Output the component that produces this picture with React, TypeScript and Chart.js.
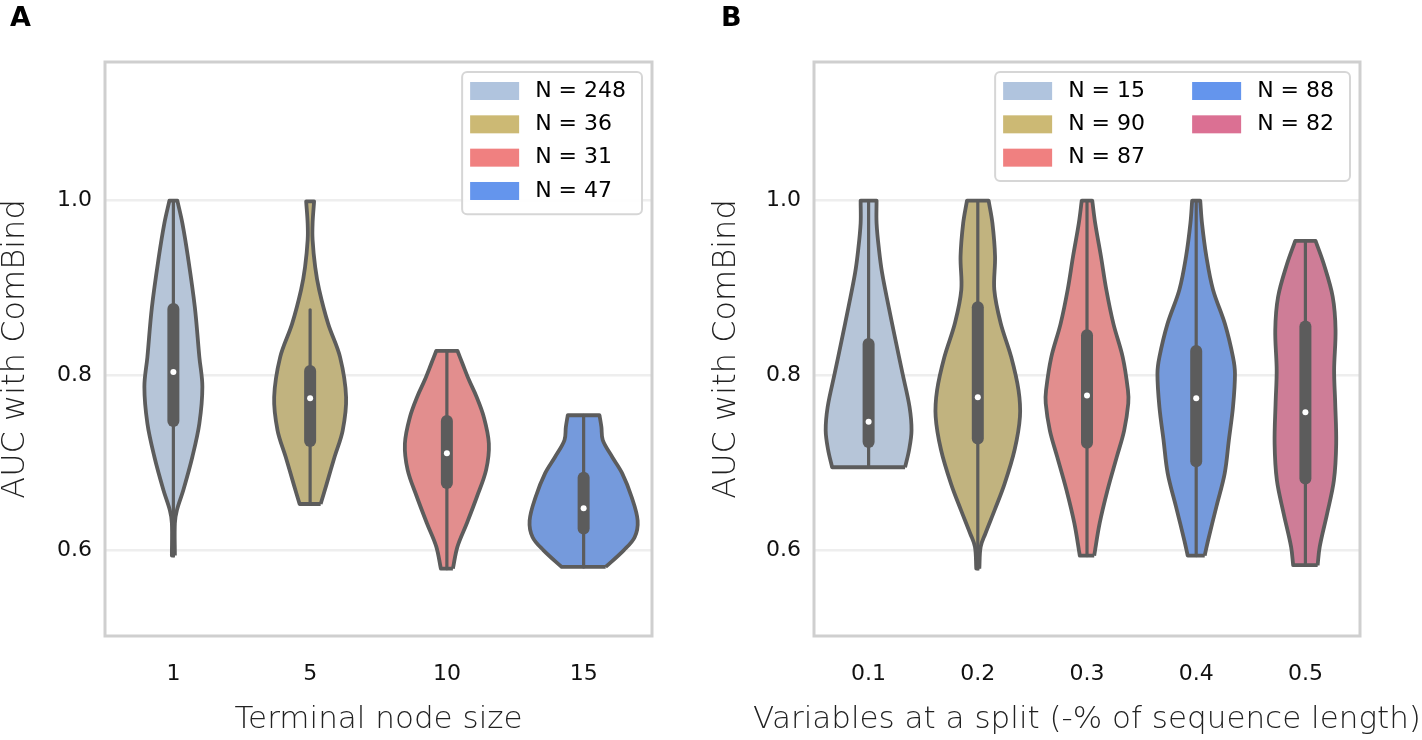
import React, { useEffect, useRef } from 'react';
import { Chart, registerables } from 'chart.js';

Chart.register(...registerables);

// ---------- Panel A data ----------
const categoriesA = ['1', '5', '10', '15'];
const countsA = [248, 36, 31, 47];
const levelsA = [
  [1.0, 0.974, 0.936, 0.878, 0.821, 0.787, 0.745, 0.707, 0.669, 0.646, 0.631, 0.594],
  [0.999, 0.974, 0.955, 0.924, 0.898, 0.859, 0.821, 0.775, 0.737, 0.707, 0.676, 0.653],
  [0.828, 0.814, 0.795, 0.776, 0.753, 0.722, 0.692, 0.661, 0.631, 0.604, 0.579],
  [0.7545, 0.741, 0.726, 0.707, 0.688, 0.661, 0.634, 0.615, 0.6, 0.581],
];
const halfWidthsA = [
  [0.029, 0.066, 0.106, 0.157, 0.19, 0.212, 0.19, 0.139, 0.073, 0.026, 0.011, 0.011],
  [0.029, 0.018, 0.018, 0.037, 0.066, 0.132, 0.219, 0.263, 0.238, 0.179, 0.121, 0.077],
  [0.078, 0.113, 0.161, 0.216, 0.269, 0.307, 0.287, 0.219, 0.146, 0.077, 0.044],
  [0.116, 0.13, 0.14, 0.208, 0.282, 0.351, 0.395, 0.373, 0.293, 0.161],
];
const q1A = [0.748, 0.725, 0.677, 0.625];
const medianA = [0.804, 0.774, 0.711, 0.648];
const q3A = [0.876, 0.805, 0.748, 0.683];
const whiskerLoA = [0.594, 0.653, 0.579, 0.581];
const whiskerHiA = [1.0, 0.875, 0.828, 0.7545];

// ---------- Panel B data ----------
const categoriesB = ['0.1', '0.2', '0.3', '0.4', '0.5'];
const countsB = [15, 90, 87, 88, 82];
const levelsB = [
  [1.0, 0.974, 0.943, 0.917, 0.879, 0.84, 0.802, 0.764, 0.737, 0.715, 0.695],
  [1.0, 0.974, 0.936, 0.898, 0.86, 0.821, 0.783, 0.753, 0.715, 0.676, 0.646, 0.619, 0.604, 0.579],
  [1.0, 0.974, 0.936, 0.898, 0.859, 0.821, 0.783, 0.768, 0.737, 0.707, 0.669, 0.631, 0.594],
  [1.0, 0.974, 0.936, 0.898, 0.859, 0.821, 0.802, 0.764, 0.726, 0.688, 0.65, 0.611, 0.594],
  [0.954, 0.928, 0.89, 0.852, 0.806, 0.768, 0.722, 0.68, 0.642, 0.604, 0.583],
];
const halfWidthsB = [
  [0.073, 0.073, 0.096, 0.124, 0.183, 0.247, 0.311, 0.375, 0.393, 0.371, 0.334],
  [0.099, 0.134, 0.158, 0.151, 0.209, 0.306, 0.373, 0.386, 0.337, 0.245, 0.154, 0.069, 0.026, 0.014],
  [0.048, 0.075, 0.128, 0.177, 0.242, 0.327, 0.375, 0.378, 0.34, 0.273, 0.188, 0.116, 0.066],
  [0.037, 0.053, 0.093, 0.154, 0.263, 0.337, 0.355, 0.337, 0.299, 0.261, 0.185, 0.108, 0.078],
  [0.093, 0.167, 0.25, 0.276, 0.263, 0.273, 0.282, 0.261, 0.199, 0.131, 0.112],
];
const q1B = [0.724, 0.728, 0.723, 0.702, 0.682];
const medianB = [0.747, 0.775, 0.777, 0.774, 0.758];
const q3B = [0.836, 0.878, 0.846, 0.828, 0.856];
const whiskerLoB = [0.695, 0.579, 0.594, 0.594, 0.583];
const whiskerHiB = [1.0, 1.0, 1.0, 1.0, 0.954];

// ---------- shared ----------
const yTicks = [0.6, 0.8, 1.0];
const yMin = 0.502;
const yMax = 1.1585;
const legendColors = ['#b0c4de', '#ccb974', '#f08080', '#6495ed', '#db7093'];
const violinColors = ['#b6c5d8', '#c1b37f', '#e28e8e', '#759adc', '#ce7d97'];
const GRAY = '#5c5c5c';
const FONT = "'DejaVu Sans'";

function buildDatasets(levels: number[][], widths: number[][], q1: number[], med: number[], q3: number[], lo: number[], hi: number[]) {
  const ds: any[] = [];
  levels.forEach((lv, i) => {
    // right side bottom -> top, left side top -> bottom
    const right = lv.map((v, k) => ({ x: i + widths[i][k], y: v })).reverse();
    const left = lv.map((v, k) => ({ x: i - widths[i][k], y: v }));
    const rTop = right[right.length - 1];
    const lBot = left[left.length - 1];
    // corner points repeated so the flat caps stay straight while the sides are smoothed
    const poly = [...right, rTop, ...left.slice(0, 1), ...left, lBot, right[0]];
    ds.push({
      data: poly, showLine: true, fill: 'shape', backgroundColor: violinColors[i],
      borderColor: GRAY, borderWidth: 3.8, pointRadius: 0, tension: 0.35,
      borderJoinStyle: 'round', order: 3,
    });
    ds.push({
      data: [{ x: i, y: lo[i] }, { x: i, y: hi[i] }], showLine: true, fill: false,
      borderColor: GRAY, borderWidth: 3.2, pointRadius: 0, borderCapStyle: 'round', order: 2,
    });
    ds.push({
      data: [{ x: i, y: q1[i] }, { x: i, y: q3[i] }], showLine: true, fill: false,
      borderColor: GRAY, borderWidth: 12, pointRadius: 0, borderCapStyle: 'round', order: 1,
    });
    ds.push({
      data: [{ x: i, y: med[i] }], showLine: false, pointRadius: 3,
      pointBackgroundColor: '#ffffff', pointBorderWidth: 0, order: 0,
    });
  });
  return ds;
}

const decorPlugin = {
  id: 'decor',
  afterDraw(chart: any, _args: any, opts: any) {
    const { ctx, chartArea: a } = chart;
    ctx.save();
    // frame
    ctx.strokeStyle = '#cfcfcf';
    ctx.lineWidth = 3;
    ctx.strokeRect(a.left, a.top, a.right - a.left, a.bottom - a.top);
    // panel letter
    ctx.fillStyle = '#000';
    ctx.font = `bold 27px ${FONT}`;
    ctx.textBaseline = 'alphabetic';
    ctx.textAlign = 'left';
    ctx.fillText(opts.letter, 10, 26);
    // x axis title
    ctx.font = `200 31px ${FONT}`;
    ctx.fillStyle = '#222';
    ctx.textAlign = 'center';
    ctx.textBaseline = 'middle';
    ctx.fillText(opts.xTitle, (a.left + a.right) / 2, 720);
    // legend
    ctx.textAlign = 'left';
    const labels: string[] = opts.labels;
    const rows: number = opts.rows;
    const cols = Math.ceil(labels.length / rows);
    ctx.font = `22px ${FONT}`;
    const rowH = 33.33;
    const colW = 189;
    let lastColW = 0;
    labels.forEach((t, i) => {
      if (Math.floor(i / rows) === cols - 1) lastColW = Math.max(lastColW, ctx.measureText(t).width);
    });
    const boxW = 8 + (cols - 1) * colW + 65 + lastColW + 16;
    const boxH = rows * rowH + 9;
    const bx = a.right - 10 - boxW;
    const by = a.top + 10;
    ctx.beginPath();
    ctx.roundRect(bx, by, boxW, boxH, 5);
    ctx.fillStyle = 'rgba(255,255,255,0.9)';
    ctx.fill();
    ctx.strokeStyle = '#d6d6d6';
    ctx.lineWidth = 2;
    ctx.stroke();
    labels.forEach((t, i) => {
      const c = Math.floor(i / rows);
      const r = i % rows;
      const cy = by + 19 + r * rowH;
      const px = bx + 8 + c * colW;
      ctx.fillStyle = opts.colors[i];
      ctx.fillRect(px, cy - 9, 49, 18);
      ctx.fillStyle = '#000';
      ctx.textBaseline = 'middle';
      ctx.fillText(t, px + 65, cy);
    });
    ctx.restore();
  },
};

function makeConfig(p: any) {
  return {
    type: 'scatter',
    data: { datasets: p.datasets },
    plugins: [decorPlugin],
    options: {
      responsive: false,
      animation: false,
      events: [],
      layout: { padding: { left: 0, top: 62, right: p.rightPad, bottom: 0 } },
      plugins: {
        legend: { display: false },
        tooltip: { enabled: false },
        decor: { letter: p.letter, labels: p.labels, colors: p.colors, rows: p.rows, xTitle: p.xTitle },
      },
      scales: {
        x: {
          type: 'linear',
          min: -0.5,
          max: p.categories.length - 0.5,
          afterBuildTicks: (s: any) => { s.ticks = p.categories.map((_: string, i: number) => ({ value: i })); },
          afterFit: (s: any) => { s.height = 104; },
          ticks: {
            callback: (v: number) => p.categories[v],
            autoSkip: false, maxRotation: 0, padding: 25,
            color: '#111', font: { size: 22, family: FONT },
          },
          grid: { display: false, drawTicks: false },
          border: { display: false },
        },
        y: {
          type: 'linear',
          min: yMin,
          max: yMax,
          afterBuildTicks: (s: any) => { s.ticks = yTicks.map((v) => ({ value: v })); },
          afterFit: (s: any) => { s.width = p.leftW; },
          ticks: {
            callback: (v: number) => v.toFixed(1),
            padding: 13, color: '#111', font: { size: 22, family: FONT },
          },
          grid: { color: '#eeeeee', lineWidth: 2.5, drawTicks: false },
          border: { display: false },
          title: {
            display: true, text: 'AUC with ComBind', color: '#222',
            font: { size: 32, weight: 200, family: FONT, lineHeight: 1 },
            padding: { top: 0, bottom: 0 },
          },
        },
      },
    },
  };
}

function Panel({ left, cfg }: { left: number; cfg: any }) {
  const ref = useRef<HTMLCanvasElement>(null);
  useEffect(() => {
    if (!ref.current) return;
    const chart = new Chart(ref.current, makeConfig(cfg) as any);
    return () => chart.destroy();
  }, []);
  return (
    <canvas
      ref={ref}
      width={711}
      height={740}
      style={{ position: 'absolute', left, top: 0, width: 711, height: 740 }}
    />
  );
}

export default function App() {
  Chart.defaults.font.family = FONT;
  const cfgA = {
    letter: 'A',
    categories: categoriesA,
    labels: countsA.map((n) => `N = ${n}`),
    colors: legendColors.slice(0, 4),
    rows: 4,
    xTitle: 'Terminal node size',
    leftW: 105,
    rightPad: 59,
    datasets: buildDatasets(levelsA, halfWidthsA, q1A, medianA, q3A, whiskerLoA, whiskerHiA),
  };
  const cfgB = {
    letter: 'B',
    categories: categoriesB,
    labels: countsB.map((n) => `N = ${n}`),
    colors: legendColors,
    rows: 3,
    xTitle: 'Variables at a split (-% of sequence length)',
    leftW: 103,
    rightPad: 62,
    datasets: buildDatasets(levelsB, halfWidthsB, q1B, medianB, q3B, whiskerLoB, whiskerHiB),
  };
  return (
    <div style={{ position: 'absolute', left: 0, top: 0, width: 1422, height: 740, background: '#fff' }}>
      <Panel left={0} cfg={cfgA} />
      <Panel left={711} cfg={cfgB} />
    </div>
  );
}
